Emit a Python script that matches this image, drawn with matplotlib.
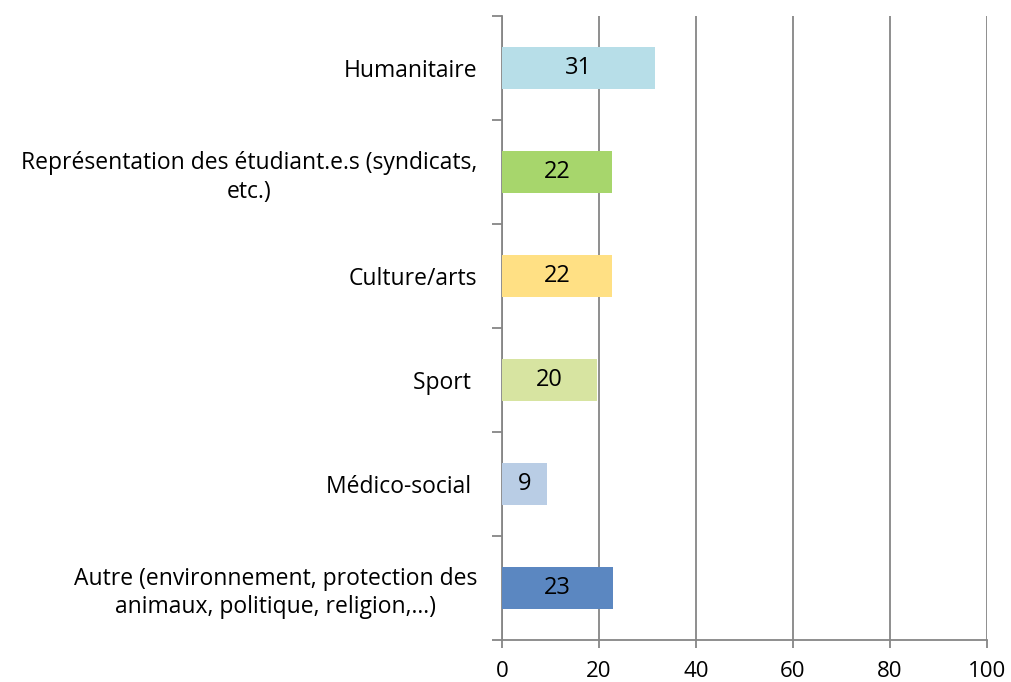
import matplotlib
matplotlib.use('Agg')
import matplotlib.pyplot as plt

categories = ['Autre (environnement, protection des\nanimaux, politique, religion,…)',
              'Médico-social ',
              'Sport ',
              'Culture/arts',
              'Représentation des étudiant.e.s (syndicats,\netc.)',
              'Humanitaire']
values = [22.9, 9.3, 19.6, 22.7, 22.7, 31.5]
value_labels = ['23', '9', '20', '22', '22', '31']
colors = ['#5B87C1', '#B9CDE5', '#D7E4A1', '#FFE084', '#A7D66C', '#B7DEE8']

plt.rcParams['font.family'] = ['Open Sans', 'DejaVu Sans']
fig = plt.figure(figsize=(10.11, 6.82), dpi=100)
ax = fig.add_axes([0.4965, 0.0616, 0.4797, 0.9149])

pos = list(range(len(categories)))
ax.barh(pos, values, height=0.4, color=colors, zorder=3)
for p, v, t in zip(pos, values, value_labels):
    ax.text(v / 2, p, t, ha='center', va='center', fontsize=17, zorder=4)

ax.set_xlim(0, 100)
ax.set_ylim(-0.5, 5.5)
ax.set_xticks([0, 20, 40, 60, 80, 100])
ax.set_yticks(pos)
ax.set_yticklabels(categories, multialignment='center', linespacing=1.25)
ax.set_yticks([i - 0.5 for i in range(7)], minor=True)
ax.tick_params(axis='y', which='major', length=0, pad=18, labelsize=16.5)
ax.tick_params(axis='y', which='minor', length=7, width=1.3, color='#868686')
ax.tick_params(axis='x', length=6, width=1.3, color='#868686', pad=9, labelsize=16)
ax.grid(axis='x', color='#868686', linewidth=1.3, zorder=0)
for s in ['top', 'right']:
    ax.spines[s].set_visible(False)
for s in ['left', 'bottom']:
    ax.spines[s].set_color('#868686')
    ax.spines[s].set_linewidth(1.3)

fig.savefig('out.png', dpi=100)
